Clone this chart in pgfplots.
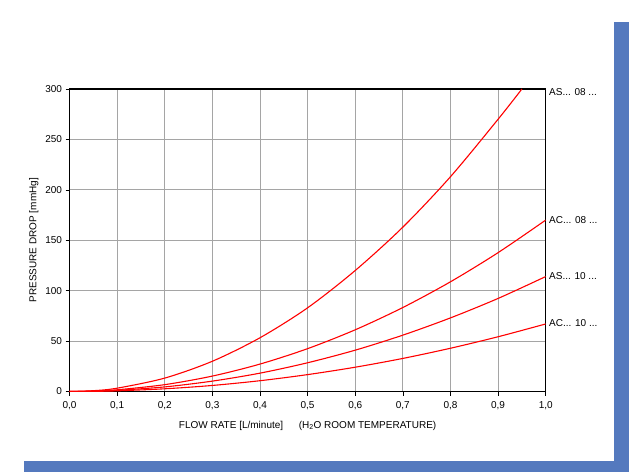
\documentclass[border=0pt]{standalone}
\usepackage{pgfplots}
\pgfplotsset{compat=1.18}
\usepackage{fontspec}
\setmainfont{Liberation Sans}
\definecolor{barblue}{RGB}{84,121,190}
\definecolor{gridgray}{RGB}{165,165,165}
\tikzset{curve/.style={red, line width=1.1pt, smooth, mark=none}}
\begin{document}
\begin{tikzpicture}[x=1pt,y=1pt]
\fill[white] (0,0) rectangle (629,472);
\fill[barblue] (614,0) rectangle (629,450);
\fill[barblue] (24,0) rectangle (614,11);
\begin{axis}[
  at={(69.5pt,80.5pt)}, anchor=south west,
  scale only axis, width=476.2pt, height=302.5pt,
  xmin=0, xmax=1, ymin=0, ymax=300,
  xtick={0,0.1,...,1.0},
  xticklabels={{0,0},{0,1},{0,2},{0,3},{0,4},{0,5},{0,6},{0,7},{0,8},{0,9},{1,0}},
  ytick={0,50,...,300},
  grid=major,
  major grid style={gridgray, line width=0.7pt},
  axis line style={black, line width=1.1pt},
  tick align=outside, tick pos=left,
  major tick length=4pt,
  tick style={black, line width=0.6pt},
  ticklabel style={font=\fontsize{10}{11}\selectfont},
  xticklabel style={yshift=-2pt},
  /pgf/number format/assume math mode=true,
  xlabel={FLOW RATE [L/minute]\quad\ \ (H\textsubscript{2}O ROOM TEMPERATURE)},
  ylabel={PRESSURE DROP [mmHg]},
  label style={font=\fontsize{10}{11}\selectfont},
  xlabel style={yshift=-5pt},
  ylabel style={yshift=0pt},
  clip=true,
]
\addplot[curve] coordinates {(0,0) (0.05,0.8) (0.1,3.3) (0.2,13.3) (0.3,30) (0.4,53.3) (0.5,83) (0.6,120) (0.7,163) (0.8,213) (0.9,270) (0.95,300)};
\addplot[curve] coordinates {(0,0) (0.05,0.4) (0.1,1.7) (0.2,6.8) (0.3,15.3) (0.4,27.2) (0.5,42.5) (0.6,61.2) (0.7,83.3) (0.8,108.8) (0.9,137.7) (1.0,170)};
\addplot[curve] coordinates {(0,0) (0.05,0.3) (0.1,1.14) (0.2,4.56) (0.3,10.3) (0.4,18.2) (0.5,28.5) (0.6,41) (0.7,55.9) (0.8,73) (0.9,92.3) (1.0,114)};
\addplot[curve] coordinates {(0,0) (0.05,0.17) (0.1,0.67) (0.2,2.68) (0.3,6.0) (0.4,10.7) (0.5,16.75) (0.6,24.1) (0.7,32.8) (0.8,42.9) (0.9,54.3) (1.0,67)};
\end{axis}
\begin{scope}[font=\fontsize{10}{11}\selectfont]
\node[anchor=west, inner sep=0pt] at (549,380) {AS... 08 ...};
\node[anchor=west, inner sep=0pt] at (549,252) {AC... 08 ...};
\node[anchor=west, inner sep=0pt] at (549,196) {AS... 10 ...};
\node[anchor=west, inner sep=0pt] at (549,149) {AC... 10 ...};
\end{scope}
\end{tikzpicture}
\end{document}
